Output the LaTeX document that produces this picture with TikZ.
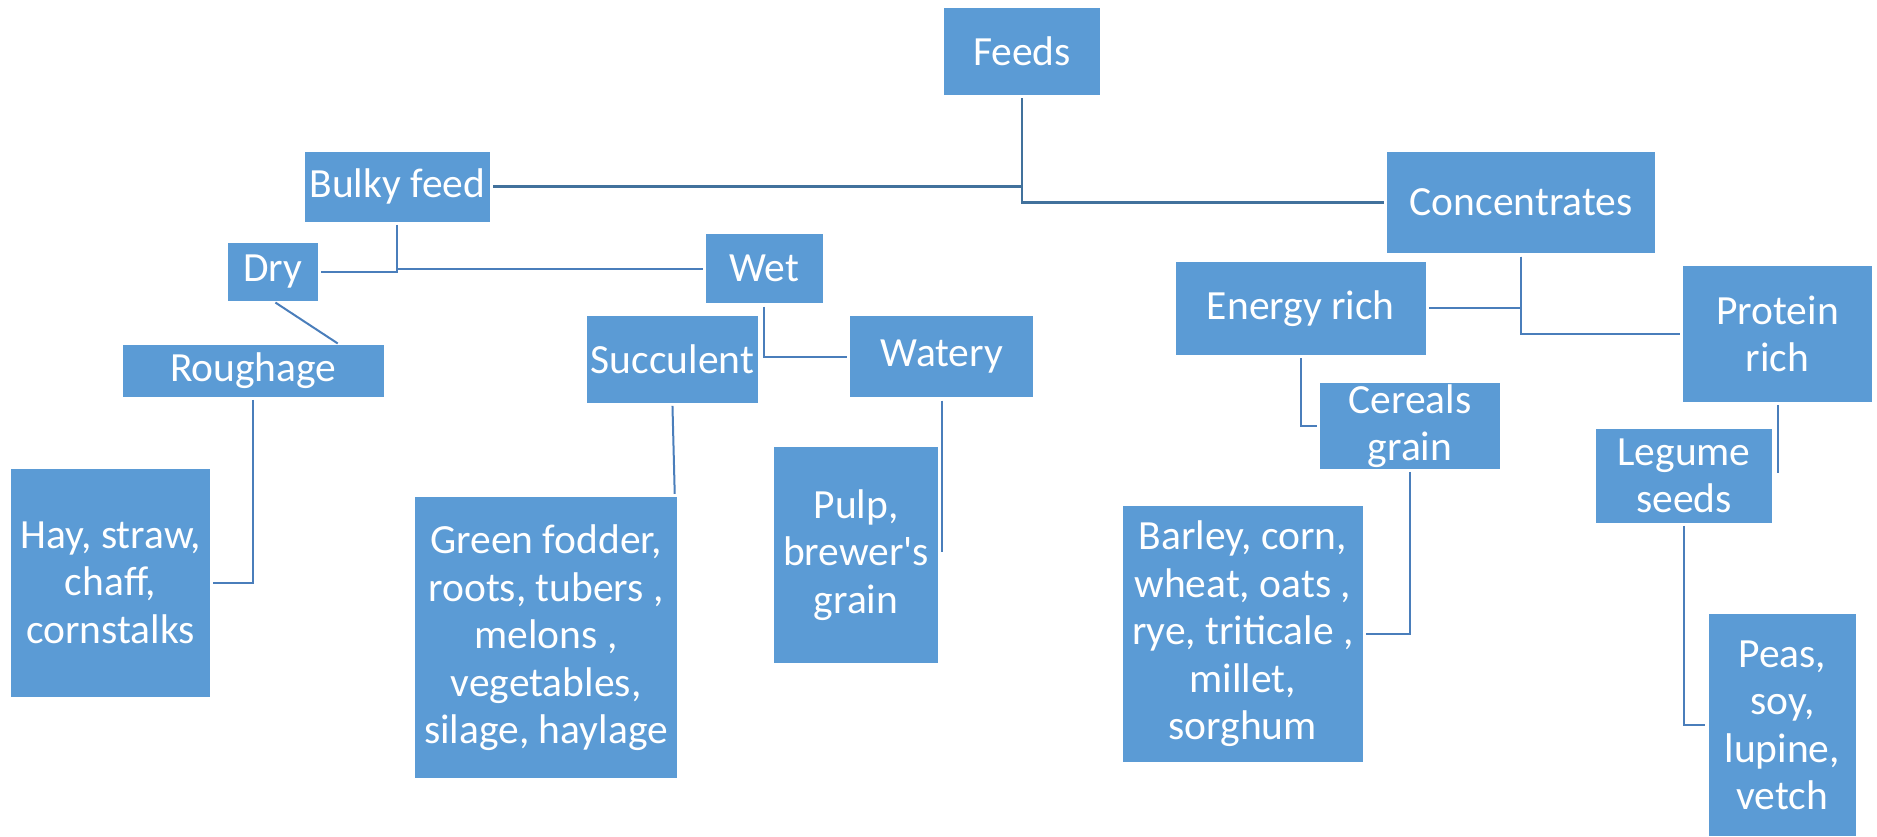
\documentclass[tikz,border=0pt]{standalone}
\usepackage{fontspec}
\setmainfont{Carlito}[Ligatures=TeXOff]
\definecolor{boxblue}{HTML}{5B9BD5}
\definecolor{lineblue}{HTML}{41719C}
\definecolor{lineblue2}{HTML}{4A7EBB}
\begin{document}
\begin{tikzpicture}[x=1pt,y=-1pt,
  feedbox/.style={fill=boxblue, draw=none, text=white, inner sep=0pt, align=center,
    font=\fontsize{41.5}{47.5}\selectfont},
  mainlink/.style={draw=lineblue, line width=2.7pt, shorten >=3pt, shorten <=3pt},
  link/.style={draw=lineblue2, line width=2pt, shorten >=3pt, shorten <=3pt}]
\useasboundingbox (0,0) rectangle (1877,836);
% boxes
\node[feedbox, minimum width=156.8pt, minimum height=86.7pt] (feeds) at (1021.9,51.7) {Feeds};
\node[feedbox, minimum width=184.6pt, minimum height=70pt] (bulky) at (397.3,186.7) {Bulky feed};
\node[feedbox, minimum width=268pt, minimum height=101.7pt] (conc) at (1521.25,202.5) {Concentrates};
\node[feedbox, minimum width=89.8pt, minimum height=58pt] (dry) at (272.9,271.7) {Dry};
\node[feedbox, minimum width=117.2pt, minimum height=69pt] (wet) at (764.3,268.8) {Wet};
\node[feedbox, minimum width=261pt, minimum height=51.4pt] (rough) at (253.25,371) {Roughage};
\node[feedbox, minimum width=171.8pt, minimum height=86.7pt] (succ) at (672.4,359.3) {Succulent};
\node[feedbox, minimum width=183pt, minimum height=81.3pt] (watery) at (941.75,356.7) {Watery};
\node[feedbox, minimum width=250.4pt, minimum height=93.3pt] (energy) at (1300.8,308.3) {Energy rich};
\node[feedbox, minimum width=189pt, minimum height=135.7pt] (protein) at (1777.5,333.8) {Protein\\rich};
\node[feedbox, minimum width=180pt, minimum height=85.4pt] (cereals) at (1410,426) {Cereals\\grain};
\node[feedbox, minimum width=175.6pt, minimum height=93.4pt] (legume) at (1684,476) {Legume\\seeds};
\node[feedbox, minimum width=199pt, minimum height=228pt] (hay) at (110.5,582.7) {Hay, straw,\\chaff,\\cornstalks};
\node[feedbox, minimum width=262pt, minimum height=281.3pt] (green) at (546.1,637.7) {Green fodder,\\roots, tubers ,\\melons ,\\vegetables,\\silage, haylage};
\node[feedbox, minimum width=164pt, minimum height=215.7pt] (pulp) at (856,554.8) {Pulp,\\brewer's\\grain};
\node[feedbox, minimum width=239.6pt, minimum height=255.7pt] (barley) at (1242.7,633.9) {Barley, corn,\\wheat, oats ,\\rye, triticale ,\\millet,\\sorghum};
\node[feedbox, minimum width=147.5pt, minimum height=221.5pt] (peas) at (1782.3,725.2) {Peas,\\soy,\\lupine,\\vetch};
% connectors
\draw[mainlink] (feeds.south) |- (bulky.east);
\draw[mainlink] (feeds.south) |- (conc.west);
\draw[link] (bulky.south) |- (dry.east);
\draw[link] (bulky.south) |- (wet.west);
\draw[link] (dry.south) -- ([xshift=87pt]rough.north);
\draw[link] (rough.south) |- (hay.east);
\draw[link] (wet.south) |- (watery.west);
\draw[link] (succ.south) -- ([xshift=-2.5pt]green.north east);
\draw[link] (watery.south) -- (watery.south |- pulp.east);
\draw[link] (conc.south) |- (energy.east);
\draw[link] (conc.south) |- (protein.west);
\draw[link] (energy.south) |- (cereals.west);
\draw[link] (cereals.south) |- (barley.east);
\draw[link] (protein.south) -- (protein.south |- legume.east);
\draw[link] (legume.south) |- (peas.west);
\end{tikzpicture}
\end{document}
